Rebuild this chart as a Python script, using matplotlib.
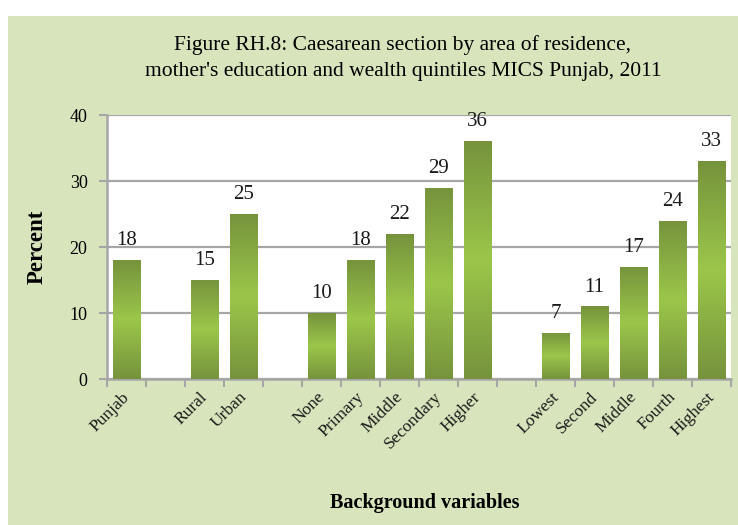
import matplotlib
matplotlib.use('Agg')
import matplotlib.pyplot as plt
import matplotlib.patches as mpatches
from matplotlib.colors import LinearSegmentedColormap
import numpy as np

# ── Data ──────────────────────────────────────────────────────────────────────
categories = ["Punjab", "", "Rural", "Urban", "",
              "None", "Primary", "Middle", "Secondary", "Higher", "",
              "Lowest", "Second", "Middle", "Fourth", "Highest"]
values = [18, None, 15, 25, None,
          10, 18, 22, 29, 36, None,
          7, 11, 17, 24, 33]

title = ("Figure RH.8: Caesarean section by area of residence,\n"
         "mother's education and wealth quintiles MICS Punjab, 2011")

# ── Style ─────────────────────────────────────────────────────────────────────
panel_bg = '#D8E4BC'
grid_col = '#A6A6A6'
serif = ['Liberation Serif', 'DejaVu Serif']
plt.rcParams['font.family'] = serif

grad = LinearSegmentedColormap.from_list(
    'bar', ['#76933C', '#9BC64A', '#76933C'])

fig = plt.figure(figsize=(7.38, 5.25), dpi=100)
fig.patch.set_facecolor('white')
fig.add_artist(mpatches.Rectangle((8 / 738, 0), 1, 1 - 16 / 525,
                                  transform=fig.transFigure,
                                  facecolor=panel_bg, edgecolor='none',
                                  zorder=0))

ax = fig.add_axes([107 / 738, 1 - 379 / 525, 624 / 738, 264 / 525])
ax.set_facecolor('white')

x = np.arange(len(categories))
bar_w = 0.71
gradient = np.linspace(0, 1, 256).reshape(-1, 1)

for xi, v in zip(x, values):
    if v is None:
        continue
    rect = ax.bar(xi, v, width=bar_w, color='none', edgecolor='none',
                  zorder=3)[0]
    im = ax.imshow(gradient, cmap=grad, aspect='auto',
                   extent=(xi - bar_w / 2, xi + bar_w / 2, 0, v),
                   zorder=3, interpolation='bilinear')
    im.set_clip_path(rect)
    ax.text(xi, v + 1.5, f"{v}", ha='center', va='bottom', fontsize=15,
            color='#1a1a1a', zorder=5)

ax.set_xlim(-0.5, len(categories) - 0.5)
ax.set_ylim(0, 40)

# ── Axes formatting ──────────────────────────────────────────────────────────
ax.set_yticks([0, 10, 20, 30, 40])
ax.tick_params(axis='y', length=6, width=1.5, color=grid_col,
               labelsize=13, pad=8)
ax.yaxis.grid(True, color=grid_col, linewidth=1.6, zorder=1)
ax.set_axisbelow(True)

ax.set_xticks(x)
ax.set_xticklabels([])
ax.tick_params(axis='x', which='major', length=0)
ax.set_xticks(np.arange(-0.5, len(categories)), minor=True)
ax.tick_params(axis='x', which='minor', length=6, width=1.5, color=grid_col)

for xi, lab in zip(x, categories):
    if not lab:
        continue
    ax.text(xi + 0.02, -2.4, lab, rotation=45, rotation_mode='anchor',
            ha='right', va='center', fontsize=12.5, color='#1a1a1a',
            clip_on=False)

for side in ['top', 'right']:
    ax.spines[side].set_visible(False)
for side in ['left', 'bottom']:
    ax.spines[side].set_color(grid_col)
    ax.spines[side].set_linewidth(1.8)

ax.set_ylabel('Percent', fontsize=16.5, fontweight='bold', labelpad=16)
fig.text(425 / 738, 1 - 503 / 525, 'Background variables', ha='center',
         va='center', fontsize=14.5, fontweight='bold')

fig.text(403 / 738, 1 - 58 / 525, title, ha='center', va='center',
         fontsize=15.5, linespacing=1.45)

fig.savefig('out.png', dpi=100, facecolor='white')
